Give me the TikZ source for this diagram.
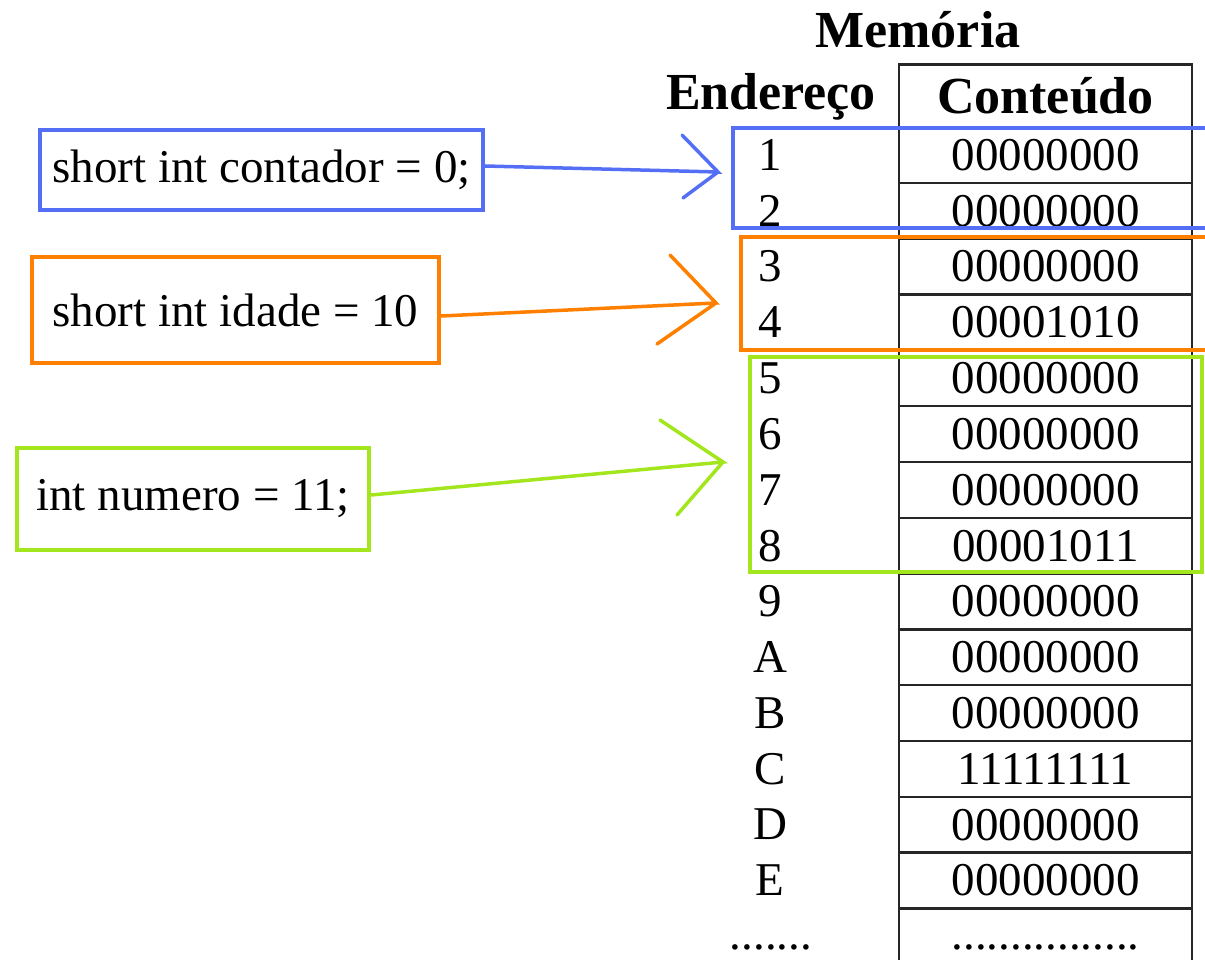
\documentclass[tikz,border=0pt]{standalone}
\usepackage{fontspec}
\setmainfont{Liberation Serif}
\usetikzlibrary{positioning}
\definecolor{boxblue}{RGB}{84,110,245}
\definecolor{boxorange}{RGB}{255,128,0}
\definecolor{boxgreen}{RGB}{163,230,30}
\tikzset{
  cell/.style={draw=black!85,line width=2.4pt,minimum width=293pt,minimum height=55.8pt,inner sep=0pt,font=\fontsize{47}{56}\selectfont},
  addr/.style={inner sep=0pt,font=\fontsize{47}{56}\selectfont},
  head/.style={inner sep=0pt,font=\fontsize{52}{60}\selectfont\bfseries},
  decl/.style={draw,line width=4pt,inner sep=0pt,font=\fontsize{47}{56}\selectfont},
  group/.style={line width=4pt},
  link/.style={line width=3.5pt,line cap=round,line join=miter}
}
\begin{document}
\begin{tikzpicture}[x=1pt,y=-1pt]
  \useasboundingbox (0,0) rectangle (1205,960);

  % memory table
  \node[head] (mem) at (918,30) {Memória};
  \node[head] (hdaddr) at (771,97) {Endereço};
  \node[cell,minimum height=63pt,font=\fontsize{52}{60}\selectfont\bfseries] (hdval) at (1045.5,96) {Conteúdo};
  \foreach \ad/\val [count=\i] in {1/00000000,2/00000000,3/00000000,4/00001010,5/00000000,6/00000000,7/00000000,8/00001011,9/00000000,A/00000000,B/00000000,C/11111111,D/00000000,E/00000000}{
    \node[addr] (a\i) at (770,{155+55.8*(\i-1)}) {\ad};
    \node[cell] (c\i) at (1045.5,{155+55.8*(\i-1)}) {\val};
  }
  \node[cell,minimum height=70pt] (cmore) at (1045.5,943) {};
  \node[addr,anchor=base] (amore) at (771,949) {.......};
  \node[addr,anchor=base] (vmore) at (1045.5,949) {................};

  % groups of bytes
  \draw[group,boxblue] (733,128) rectangle (1215,228);
  \draw[group,boxorange] (741,237) rectangle (1215,350);
  \draw[group,boxgreen] (750,357) rectangle (1202,572);

  % declarations
  \node[decl,boxblue,text=black,minimum width=443pt,minimum height=80pt] (dcont) at (261.5,170) {short int contador = 0;};
  \node[decl,boxorange,text=black,minimum width=407pt,minimum height=106pt] (didade) at (235.5,310) {short int idade = 10};
  \node[decl,boxgreen,text=black,minimum width=352pt,minimum height=102pt] (dnum) at (193,499) {int numero = 11;};

  \coordinate (tcont) at (718,172);
  \coordinate (tidade) at (716,303);
  \coordinate (tnum) at (723,462);

  \draw[link,boxblue] ([yshift=4pt]dcont.east) -- (tcont) -- ++(-36,-37) (tcont) -- ++(-35,26);
  \draw[link,boxorange] ([yshift=-6pt]didade.east) -- (tidade) -- ++(-46,-48) (tidade) -- ++(-59,41);
  \draw[link,boxgreen] ([yshift=4pt]dnum.east) -- (tnum) -- ++(-63,-42) (tnum) -- ++(-46,53);
\end{tikzpicture}
\end{document}
